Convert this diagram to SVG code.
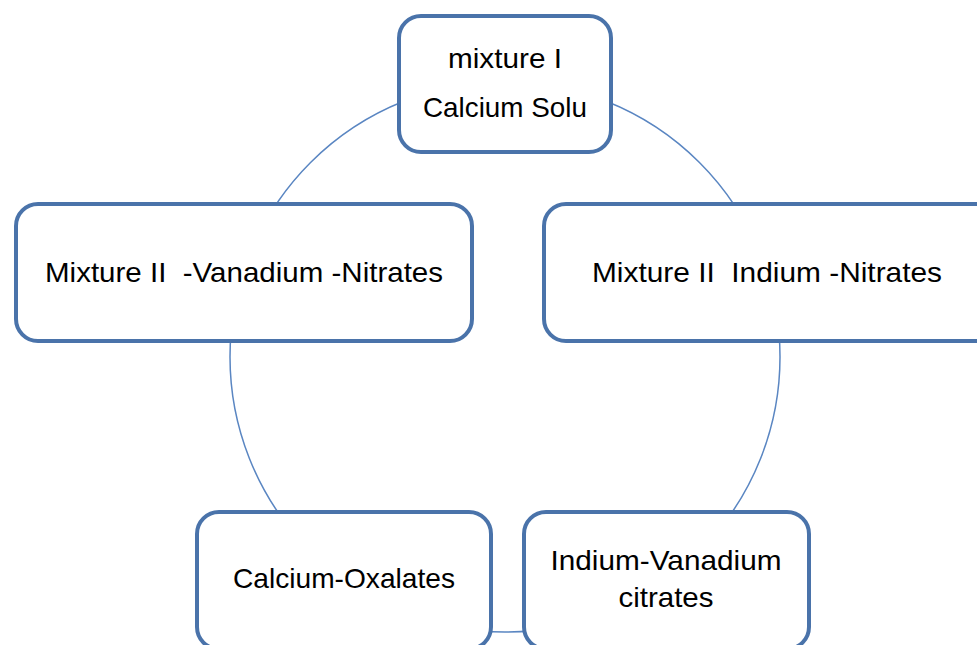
<svg xmlns="http://www.w3.org/2000/svg" width="977" height="645" viewBox="0 0 977 645">
<style>
.node{fill:#fff;stroke:#4a73aa;stroke-width:4}
.conn{fill:none;stroke:#5a86c2;stroke-width:1.5}
text{font-family:"Liberation Sans",Arial,sans-serif;font-size:28px;fill:#000;text-anchor:middle;white-space:pre}
</style>
<rect width="977" height="645" fill="#fff"/>
<g id="connectors">
<circle class="conn" cx="505" cy="357" r="275"/>
</g>
<g id="node-top">
<rect class="node" x="399" y="16" width="212" height="136" rx="22"/>
<text x="505" y="68" textLength="114" lengthAdjust="spacingAndGlyphs">mixture I</text>
<text x="505" y="117" textLength="164" lengthAdjust="spacingAndGlyphs">Calcium Solu</text>
</g>
<g id="node-left">
<rect class="node" x="16" y="204" width="456" height="137" rx="22"/>
<text x="244" y="282" xml:space="preserve" textLength="398" lengthAdjust="spacingAndGlyphs">Mixture II  -Vanadium -Nitrates</text>
</g>
<g id="node-right">
<rect class="node" x="544" y="204" width="456" height="137" rx="22"/>
<text x="767" y="282" xml:space="preserve" textLength="350" lengthAdjust="spacingAndGlyphs">Mixture II  Indium -Nitrates</text>
</g>
<g id="node-bottom-left">
<rect class="node" x="197" y="512" width="294" height="137" rx="22"/>
<text x="344" y="588" textLength="222" lengthAdjust="spacingAndGlyphs">Calcium-Oxalates</text>
</g>
<g id="node-bottom-right">
<rect class="node" x="524" y="512" width="285" height="137" rx="22"/>
<text x="666" y="570" textLength="231" lengthAdjust="spacingAndGlyphs">Indium-Vanadium</text>
<text x="666" y="607" textLength="95" lengthAdjust="spacingAndGlyphs">citrates</text>
</g>
</svg>
